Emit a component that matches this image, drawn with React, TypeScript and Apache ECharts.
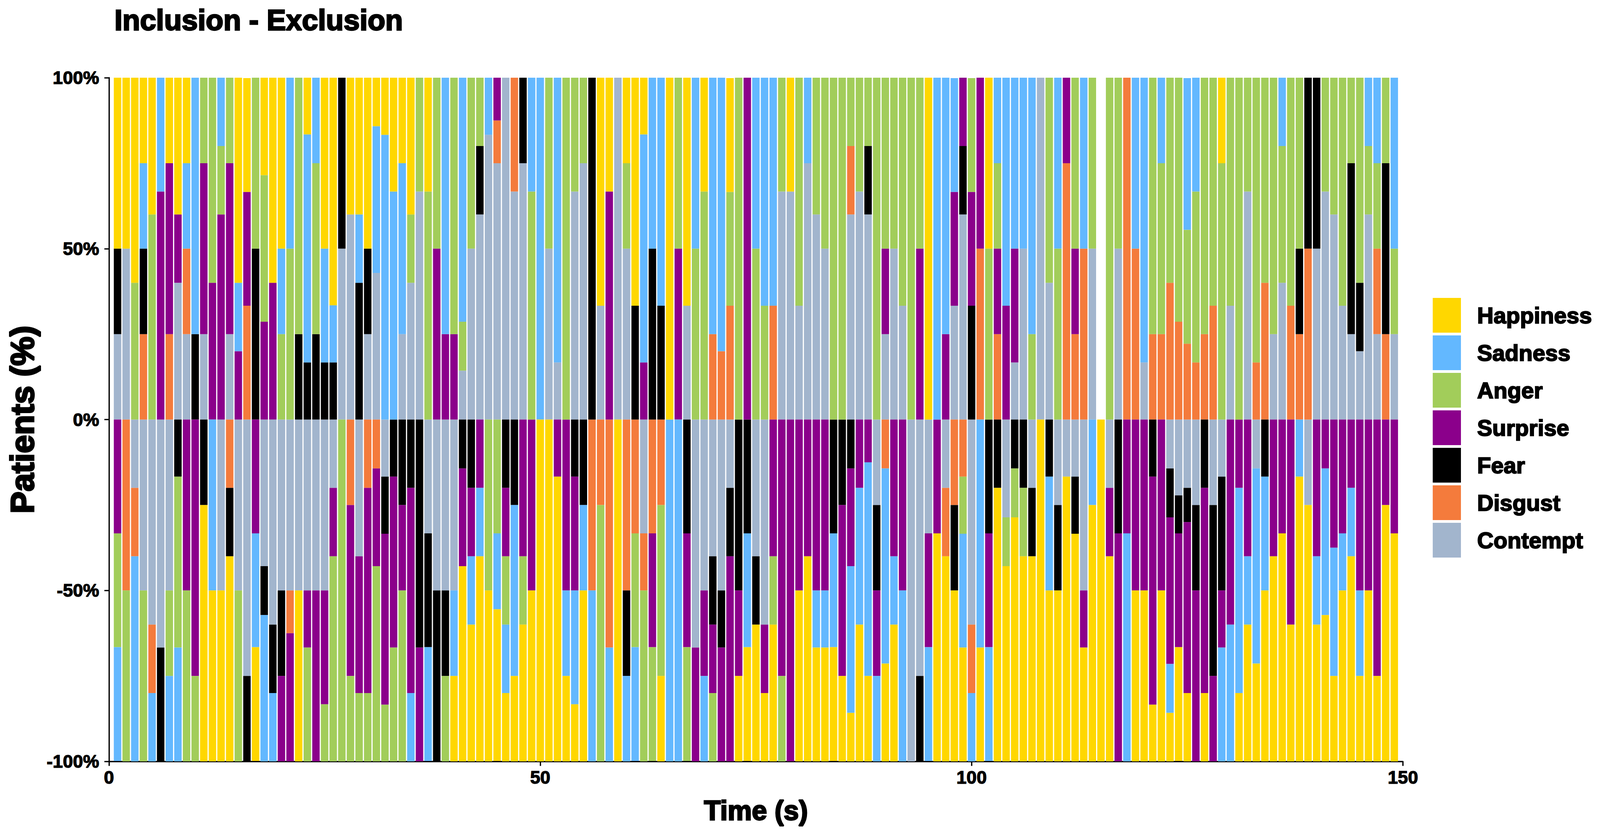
import React, { useEffect, useRef } from "react";
import * as echarts from "echarts";

// x categories (seconds); bars sit at 1..149
const TIME_AXIS = [
  0, 1, 2, 3, 4, 5, 6, 7, 8, 9, 10, 11, 12, 13, 14, 15, 16, 17, 18, 19, 20,
  21, 22, 23, 24, 25, 26, 27, 28, 29, 30, 31, 32, 33, 34, 35, 36, 37, 38, 39, 40,
  41, 42, 43, 44, 45, 46, 47, 48, 49, 50, 51, 52, 53, 54, 55, 56, 57, 58, 59, 60,
  61, 62, 63, 64, 65, 66, 67, 68, 69, 70, 71, 72, 73, 74, 75, 76, 77, 78, 79, 80,
  81, 82, 83, 84, 85, 86, 87, 88, 89, 90, 91, 92, 93, 94, 95, 96, 97, 98, 99, 100,
  101, 102, 103, 104, 105, 106, 107, 108, 109, 110, 111, 112, 113, 114, 115, 116, 117, 118, 119, 120,
  121, 122, 123, 124, 125, 126, 127, 128, 129, 130, 131, 132, 133, 134, 135, 136, 137, 138, 139, 140,
  141, 142, 143, 144, 145, 146, 147, 148, 149, 150,
];
const X_TICKS = [0, 50, 100, 150];
const EMOTIONS = ["Happiness", "Sadness", "Anger", "Surprise", "Fear", "Disgust", "Contempt"];

// ---- Inclusion (positive %), bars t = 1..149 ----
const HAPPINESS_IN = [
  50, 50, 60, 25, 40, 0, 25, 40, 25, 0,
  0, 0, 0, 0, 60, 33.3, 0, 28.6, 60, 50,
  0, 0, 16.7, 0, 50, 66.7, 0, 40, 40, 50,
  14.3, 16.7, 33.3, 25, 40, 0, 33.3, 0, 0, 0,
  0, 0, 0, 0, 0, 0, 0, 0, 0, 0,
  0, 0, 0, 0, 0, 0, 66.7, 33.3, 0, 25,
  66.7, 16.7, 0, 0, 100, 0, 66.7, 0, 33.3, 0,
  0, 33.3, 0, 0, 0, 0, 0, 0, 33.3, 0,
  0, 0, 0, 0, 0, 0, 0, 0, 0, 0,
  0, 0, 0, 0, 100, 0, 0, 0, 0, 0,
  0, 50, 0, 0, 0, 0, 0, 0, 0, 0,
  0, 0, 0, 0, 0, 0, 0, 0, 0, 0,
  0, 0, 0, 0, 0, 0, 0, 0, 25, 0,
  0, 0, 0, 0, 0, 0, 0, 0, 0, 0,
  0, 0, 0, 0, 0, 0, 0, 0, 0,
];
const SADNESS_IN = [
  0, 0, 0, 25, 0, 33.3, 0, 0, 25, 75,
  0, 0, 20, 0, 20, 0, 0, 0, 0, 25,
  50, 0, 66.7, 25, 33.3, 16.7, 0, 0, 20, 0,
  42.9, 83.3, 66.7, 50, 0, 0, 0, 0, 75, 0,
  71.4, 0, 0, 16.7, 0, 0, 0, 0, 33.3, 100,
  0, 83.3, 0, 0, 0, 0, 0, 0, 0, 0,
  0, 66.7, 50, 66.7, 0, 0, 0, 50, 0, 75,
  80, 0, 0, 0, 50, 66.7, 66.7, 0, 0, 0,
  25, 0, 0, 0, 0, 0, 0, 0, 0, 0,
  0, 0, 0, 0, 0, 100, 75, 33.3, 0, 0,
  0, 0, 25, 66.7, 50, 50, 75, 0, 0, 50,
  0, 0, 50, 0, 0, 0, 0, 0, 50, 83.3,
  0, 25, 0, 0, 44.4, 33.3, 0, 0, 0, 0,
  0, 0, 0, 0, 0, 20, 0, 0, 0, 0,
  0, 0, 0, 0, 0, 20, 25, 0, 50,
];
const ANGER_IN = [
  0, 0, 40, 0, 60, 0, 0, 0, 0, 0,
  25, 60, 20, 25, 0, 0, 50, 42.9, 0, 25,
  50, 75, 0, 50, 0, 0, 0, 0, 0, 0,
  0, 0, 0, 0, 20, 33.3, 66.7, 50, 0, 75,
  14.3, 50, 20, 0, 0, 0, 0, 0, 66.7, 0,
  50, 0, 100, 33.3, 25, 0, 0, 0, 0, 25,
  0, 0, 0, 0, 0, 50, 0, 50, 66.7, 0,
  0, 33.3, 100, 0, 50, 33.3, 0, 33.3, 0, 66.7,
  0, 40, 50, 100, 100, 20, 33.3, 20, 100, 50,
  50, 66.7, 100, 50, 0, 0, 0, 0, 0, 33.3,
  0, 50, 25, 0, 0, 0, 25, 0, 60, 50,
  0, 50, 0, 50, 0, 100, 50, 0, 0, 0,
  75, 50, 60, 71.4, 33.3, 50, 75, 66.7, 75, 66.7,
  100, 33.3, 83.3, 60, 75, 40, 66.7, 50, 0, 0,
  33.3, 40, 66.7, 25, 60, 20, 25, 25, 25,
];
const SURPRISE_IN = [
  0, 0, 0, 0, 0, 66.7, 50, 20, 0, 0,
  50, 40, 60, 50, 20, 33.3, 0, 28.6, 40, 0,
  0, 0, 0, 0, 0, 0, 0, 0, 0, 0,
  0, 0, 0, 0, 0, 0, 0, 50, 25, 25,
  0, 0, 0, 0, 12.5, 0, 0, 0, 0, 0,
  0, 0, 0, 0, 0, 0, 0, 66.7, 0, 0,
  0, 16.7, 0, 0, 0, 50, 0, 0, 0, 0,
  0, 0, 0, 100, 0, 0, 0, 0, 0, 0,
  0, 0, 0, 0, 0, 0, 0, 0, 0, 25,
  0, 0, 0, 50, 0, 0, 25, 33.3, 20, 33.3,
  50, 0, 25, 33.3, 33.3, 0, 0, 0, 0, 0,
  25, 25, 0, 0, 0, 0, 0, 0, 0, 0,
  0, 0, 0, 0, 0, 0, 0, 0, 0, 0,
  0, 0, 0, 0, 0, 0, 0, 0, 0, 0,
  0, 0, 0, 0, 0, 0, 0, 0, 0,
];
const FEAR_IN = [
  25, 0, 0, 25, 0, 0, 0, 0, 0, 25,
  0, 0, 0, 0, 0, 0, 50, 0, 0, 0,
  0, 25, 16.7, 25, 16.7, 16.7, 50, 0, 40, 25,
  0, 0, 0, 0, 0, 0, 0, 0, 0, 0,
  0, 0, 20, 0, 0, 0, 0, 25, 0, 0,
  0, 0, 0, 0, 0, 100, 0, 0, 0, 0,
  33.3, 0, 50, 33.3, 0, 0, 0, 0, 0, 0,
  0, 0, 0, 0, 0, 0, 0, 0, 0, 0,
  0, 0, 0, 0, 0, 0, 0, 20, 0, 0,
  0, 0, 0, 0, 0, 0, 0, 0, 20, 33.3,
  0, 0, 0, 0, 0, 0, 0, 0, 0, 0,
  0, 0, 0, 0, 0, 0, 0, 0, 0, 0,
  0, 0, 0, 0, 0, 0, 0, 0, 0, 0,
  0, 0, 0, 0, 0, 0, 0, 25, 50, 50,
  0, 0, 0, 50, 20, 0, 0, 50, 0,
];
const DISGUST_IN = [
  0, 0, 0, 25, 0, 0, 25, 0, 25, 0,
  0, 0, 0, 0, 0, 33.3, 0, 0, 0, 0,
  0, 0, 0, 0, 0, 0, 0, 0, 0, 0,
  0, 0, 0, 0, 0, 0, 0, 0, 0, 0,
  0, 0, 0, 0, 12.5, 0, 33.3, 0, 0, 0,
  0, 0, 0, 0, 0, 0, 0, 0, 0, 0,
  0, 0, 0, 0, 0, 0, 0, 0, 0, 25,
  20, 33.3, 0, 0, 0, 0, 33.3, 0, 0, 0,
  0, 0, 0, 0, 0, 20, 0, 0, 0, 0,
  0, 0, 0, 0, 0, 0, 0, 0, 0, 0,
  50, 0, 25, 0, 0, 0, 0, 0, 0, 0,
  75, 25, 50, 0, 0, 0, 0, 100, 50, 0,
  25, 25, 40, 28.6, 22.2, 16.7, 25, 33.3, 0, 0,
  0, 0, 16.7, 40, 0, 0, 33.3, 25, 50, 0,
  0, 0, 0, 0, 0, 0, 25, 25, 0,
];
const CONTEMPT_IN = [
  25, 50, 0, 0, 0, 0, 0, 40, 25, 0,
  25, 0, 0, 25, 0, 0, 0, 0, 0, 0,
  0, 0, 0, 0, 0, 0, 50, 60, 0, 25,
  42.9, 0, 0, 25, 40, 66.7, 0, 0, 0, 0,
  14.3, 50, 60, 83.3, 75, 100, 66.7, 75, 0, 0,
  50, 16.7, 0, 66.7, 75, 0, 33.3, 0, 100, 50,
  0, 0, 0, 0, 0, 0, 33.3, 0, 0, 0,
  0, 0, 0, 0, 0, 0, 0, 66.7, 66.7, 33.3,
  75, 60, 50, 0, 0, 60, 66.7, 60, 0, 25,
  50, 33.3, 0, 0, 0, 0, 0, 33.3, 60, 0,
  0, 0, 0, 0, 16.7, 50, 0, 100, 40, 0,
  0, 0, 0, 50, 0, 0, 50, 0, 0, 16.7,
  0, 0, 0, 0, 0, 0, 0, 0, 0, 33.3,
  0, 66.7, 0, 0, 25, 40, 0, 0, 0, 50,
  66.7, 60, 33.3, 25, 20, 60, 25, 0, 25,
];

// ---- Exclusion (negative %), bars t = 1..149 ----
const HAPPINESS_EX = [
  0, 0, 0, 0, 0, 0, 0, 0, 0, 0,
  -75, -50, -50, -60, 0, 0, -33.3, 0, 0, 0,
  0, -50, 0, 0, 0, 0, 0, 0, 0, 0,
  0, 0, 0, 0, 0, 0, 0, 0, 0, -25,
  -57.1, -40, -60, -50, -44.4, -20, -25, -40, -50, -100,
  -100, -83.3, -25, -16.7, -50, 0, 0, 0, -100, 0,
  0, 0, 0, -25, 0, 0, 0, 0, 0, 0,
  0, 0, -25, -33.3, -40, -20, -40, 0, 0, -50,
  -60, -33.3, -33.3, -33.3, -25, -14.3, -40, -25, 0, -28.6,
  -40, 0, 0, 0, 0, -66.7, -60, -50, -33.3, 0,
  -33.3, 0, -80, -57.1, -71.4, -60, -60, -100, -50, -50,
  -83.3, -66.7, -33.3, -75, -100, -60, 0, 0, -50, -50,
  -16.7, -50, -14.3, -33.3, -20, 0, -20, 0, 0, 0,
  -20, -40, -28.6, -50, -60, -66.7, -40, -83.3, -75, -40,
  -42.9, -25, -50, -60, -25, -50, -25, -75, -66.7,
];
const SADNESS_EX = [
  -33.3, 0, -60, 0, -20, 0, -25, -33.3, 0, 0,
  0, -50, 0, 0, 0, 0, -33.3, -42.9, -20, 0,
  0, 0, 0, 0, 0, 0, 0, 0, 0, 0,
  0, 0, 0, 0, -20, 0, -33.3, 0, 0, -25,
  0, -20, -20, 0, -22.2, -20, -50, 0, 0, 0,
  0, 0, -25, -33.3, -25, -50, 0, -33.3, 0, -25,
  -33.3, 0, 0, 0, -100, -100, 0, 0, -25, 0,
  0, 0, 0, -33.3, 0, 0, 0, 0, 0, 0,
  0, -16.7, -16.7, -33.3, 0, -42.9, -40, -62.5, -25, -57.1,
  -20, -50, 0, 0, -33.3, 0, 0, 0, -33.3, -20,
  -66.7, -33.3, 0, 0, 0, 0, 0, 0, -33.3, 0,
  0, 0, 0, -25, 0, 0, 0, -66.7, 0, 0,
  0, 0, -14.3, 0, 0, 0, 0, 0, -33.3, -40,
  -60, -20, -57.1, -33.3, 0, 0, 0, -16.7, 0, -20,
  -42.9, -37.5, -16.7, -20, -25, 0, 0, 0, 0,
];
const ANGER_EX = [
  -33.3, -50, 0, -50, 0, 0, -25, -50, -50, -25,
  0, 0, 0, 0, -50, 0, 0, 0, 0, 0,
  0, 0, -33.3, 0, -16.7, -60, -100, -25, -20, -20,
  -57.1, -16.7, -33.3, -50, 0, 0, 0, 0, -25, 0,
  0, 0, 0, -50, -33.3, -20, 0, -20, 0, 0,
  0, 0, 0, 0, 0, 0, -75, 0, 0, 0,
  -33.3, -50, -33.3, -50, 0, 0, -33.3, 0, 0, -20,
  0, 0, 0, 0, 0, 0, -20, -25, 0, 0,
  0, 0, 0, 0, 0, 0, 0, 0, 0, 0,
  0, 0, 0, 0, 0, 0, 0, 0, -16.7, 0,
  0, 0, 0, -14.3, -14.3, -20, 0, 0, 0, 0,
  0, 0, 0, 0, 0, 0, 0, 0, 0, 0,
  0, 0, 0, 0, 0, 0, 0, 0, 0, 0,
  0, 0, 0, 0, 0, 0, 0, 0, 0, 0,
  0, 0, 0, 0, 0, 0, 0, 0, 0,
];
const SURPRISE_EX = [
  -33.3, 0, 0, 0, 0, 0, 0, 0, -50, -75,
  0, 0, 0, 0, 0, 0, -33.3, 0, 0, -25,
  -37.5, 0, -16.7, -50, -33.3, -20, 0, -50, -40, -60,
  -28.6, -50, -50, -25, -60, -33.3, 0, 0, 0, 0,
  -28.6, -20, -20, 0, 0, -20, 0, -40, -50, 0,
  0, -16.7, -50, -33.3, 0, 0, 0, 0, 0, 0,
  0, 0, -33.3, 0, 0, 0, -33.3, -33.3, -25, -20,
  -33.3, -60, -25, 0, 0, -20, -40, -75, -100, -50,
  -40, -50, -50, 0, -50, -28.6, -20, -12.5, -25, 0,
  -40, -50, 0, 0, -33.3, -33.3, 0, 0, 0, 0,
  0, -33.3, 0, 0, 0, 0, 0, 0, 0, 0,
  0, 0, -16.7, 0, 0, -20, -66.7, -33.3, -50, -50,
  -66.7, -50, -42.9, -33.3, -50, -50, -60, -25, -16.7, -60,
  -20, -40, 0, 0, -40, -33.3, -60, 0, 0, -40,
  -14.3, -37.5, -33.3, -20, -50, -50, -75, -25, -33.3,
];
const FEAR_EX = [
  0, 0, 0, 0, 0, -33.3, 0, -16.7, 0, 0,
  -25, 0, 0, -20, 0, -25, 0, -14.3, -20, -25,
  0, 0, 0, 0, 0, 0, 0, 0, 0, 0,
  0, -16.7, -16.7, -25, -20, -66.7, -33.3, -50, -25, 0,
  -14.3, -20, 0, 0, 0, -20, -25, 0, 0, 0,
  0, 0, 0, -16.7, -25, 0, 0, 0, 0, -25,
  0, 0, 0, 0, 0, 0, -33.3, 0, 0, -20,
  -16.7, -20, -50, -33.3, -20, 0, 0, 0, 0, 0,
  0, 0, 0, -33.3, -25, -14.3, 0, 0, -25, 0,
  0, 0, 0, -25, 0, 0, 0, -25, 0, 0,
  0, -33.3, -20, 0, -14.3, -20, -20, 0, -16.7, -25,
  0, -16.7, 0, 0, 0, 0, -33.3, 0, 0, 0,
  -16.7, 0, -14.3, -11.1, -10, -25, -20, -50, -33.3, 0,
  0, 0, 0, -16.7, 0, 0, 0, 0, 0, 0,
  0, 0, 0, 0, 0, 0, 0, 0, 0,
];
const DISGUST_EX = [
  0, -50, -20, 0, -20, 0, 0, 0, 0, 0,
  0, 0, 0, -20, 0, 0, 0, 0, 0, 0,
  -12.5, 0, 0, 0, 0, 0, 0, -25, 0, -20,
  -14.3, 0, 0, 0, 0, 0, 0, 0, 0, 0,
  0, 0, 0, 0, 0, 0, 0, 0, 0, 0,
  0, 0, 0, 0, 0, -50, -25, -66.7, 0, -50,
  -33.3, -16.7, -33.3, -25, 0, 0, 0, 0, 0, 0,
  0, 0, 0, 0, 0, 0, 0, 0, 0, 0,
  0, 0, 0, 0, 0, 0, 0, 0, 0, -14.3,
  0, 0, 0, 0, 0, 0, -20, -25, -16.7, -20,
  0, 0, 0, 0, 0, 0, 0, 0, 0, 0,
  0, 0, 0, 0, 0, 0, 0, 0, 0, 0,
  0, 0, 0, 0, 0, 0, 0, 0, 0, 0,
  0, 0, 0, 0, 0, 0, 0, 0, 0, 0,
  0, 0, 0, 0, 0, 0, 0, 0, 0,
];
const CONTEMPT_EX = [
  0, 0, -20, -50, -60, -66.7, -50, 0, 0, 0,
  0, 0, -50, 0, -50, -75, 0, -42.9, -60, -50,
  -50, -50, -50, -50, -50, -20, 0, 0, -40, 0,
  0, -16.7, 0, 0, 0, 0, -33.3, -50, -50, -50,
  0, 0, 0, 0, 0, 0, 0, 0, 0, 0,
  0, 0, 0, 0, 0, 0, 0, 0, 0, 0,
  0, -33.3, 0, 0, 0, 0, 0, -66.7, -50, -40,
  -50, -20, 0, 0, -40, -60, 0, 0, 0, 0,
  0, 0, 0, 0, 0, 0, 0, 0, -25, 0,
  0, 0, -100, -75, -33.3, 0, -20, 0, 0, -60,
  0, 0, 0, -28.6, 0, 0, -20, 0, 0, -25,
  -16.7, -16.7, -50, 0, 0, -20, 0, 0, 0, 0,
  0, 0, -14.3, -22.2, -20, -25, 0, -25, -16.7, 0,
  0, 0, -14.3, 0, 0, 0, 0, 0, -25, 0,
  0, 0, 0, 0, 0, 0, 0, 0, 0,
];

const COLORS: Record<string, string> = {
  Happiness: "#FFD700",
  Sadness: "#63B8FF",
  Anger: "#A2CD5A",
  Surprise: "#8B008B",
  Fear: "#000000",
  Disgust: "#F47B3C",
  Contempt: "#A2B5CD",
};

const FONT = "'Liberation Sans', Arial, Helvetica, sans-serif";
// Reference image size: all layout numbers below are in reference pixels and get scaled
const REF_W = 4936;
const REF_H = 2136;

export default function App() {
  const ref = useRef<HTMLDivElement>(null);

  useEffect(() => {
    const el = ref.current;
    if (!el) return;
    const W = el.clientWidth || window.innerWidth;
    const H = el.clientHeight || window.innerHeight;
    const sx = W / REF_W;
    const sy = H / REF_H;
    const s = Math.min(sx, sy);
    const chart = echarts.init(el, null, { renderer: "svg", width: W, height: H });

    const inclusion: Record<string, number[]> = {
      Happiness: HAPPINESS_IN, Sadness: SADNESS_IN, Anger: ANGER_IN, Surprise: SURPRISE_IN,
      Fear: FEAR_IN, Disgust: DISGUST_IN, Contempt: CONTEMPT_IN,
    };
    const exclusion: Record<string, number[]> = {
      Happiness: HAPPINESS_EX, Sadness: SADNESS_EX, Anger: ANGER_EX, Surprise: SURPRISE_EX,
      Fear: FEAR_EX, Disgust: DISGUST_EX, Contempt: CONTEMPT_EX,
    };

    const toData = (arr: number[]) =>
      TIME_AXIS.map((t) => {
        const v = t >= 1 && t <= arr.length ? arr[t - 1] : 0;
        return v === 0 ? "-" : v;
      });

    const stackOrder = [...EMOTIONS].reverse(); // Contempt closest to 0
    const series: any[] = [];
    stackOrder.forEach((name) => {
      [inclusion[name], exclusion[name]].forEach((arr) => {
        series.push({
          name,
          type: "bar",
          stack: "emotion",
          barWidth: 23 * sx,
          itemStyle: { color: COLORS[name] },
          emphasis: { disabled: true },
          data: toData(arr),
        });
      });
    });

    const showTick = (index: number) => X_TICKS.includes(TIME_AXIS[index]);
    const heavy = (size: number, border: number, k: number = s) => ({
      fontFamily: FONT,
      fontSize: size * k,
      fontWeight: "bold",
      color: "#000",
      textBorderColor: "#000",
      textBorderWidth: border * k,
    });

    const plotLeft = 336, plotRight = 4328, plotTop = 199, plotBottom = 1950;

    chart.setOption({
      animation: false,
      backgroundColor: "#ffffff",
      title: {
        text: "Inclusion - Exclusion",
        left: 353 * sx,
        top: 14 * sy,
        padding: 0,
        textStyle: heavy(89, 4),
      },
      legend: {
        data: EMOTIONS,
        orient: "vertical",
        left: 4420 * sx,
        top: 763 * sy,
        padding: 0,
        itemWidth: 87 * sx,
        itemHeight: 89 * sy,
        itemGap: 7 * sy,
        icon: "rect",
        selectedMode: false,
        textStyle: { ...heavy(70, 3), padding: [0, 0, 0, 44 * sx] },
      },
      grid: {
        left: plotLeft * sx,
        right: W - plotRight * sx,
        top: plotTop * sy,
        bottom: H - plotBottom * sy,
        containLabel: false,
      },
      xAxis: {
        type: "category",
        data: TIME_AXIS,
        boundaryGap: false,
        name: "Time (s)",
        nameLocation: "middle",
        nameGap: 91 * sy,
        nameTextStyle: heavy(84, 4),
        axisLine: { onZero: false, lineStyle: { color: "#000", width: 4 * s } },
        axisTick: { show: true, interval: showTick, length: 14 * s, lineStyle: { color: "#000", width: 4 * s } },
        axisLabel: { interval: showTick, margin: 18 * sy, ...heavy(56, 2) },
        splitLine: { show: false },
      },
      yAxis: {
        type: "value",
        min: -100,
        max: 100,
        interval: 50,
        name: "Patients (%)",
        nameLocation: "middle",
        nameRotate: 90,
        nameGap: (336 - 69) * sx - 42 * sy,
        nameTextStyle: heavy(84, 4, sy),
        axisLine: { show: true, lineStyle: { color: "#000", width: 4 * s } },
        axisTick: { show: true, length: 14 * s, lineStyle: { color: "#000", width: 4 * s } },
        axisLabel: {
          margin: 30 * sx,
          ...heavy(56, 2),
          formatter: (v: number) => `${v}%`,
        },
        splitLine: { show: false },
      },
      series,
    });

    return () => chart.dispose();
  }, []);

  return (
    <div
      ref={ref}
      style={{ position: "fixed", left: 0, top: 0, width: "100vw", height: "100vh", background: "#fff" }}
    />
  );
}
